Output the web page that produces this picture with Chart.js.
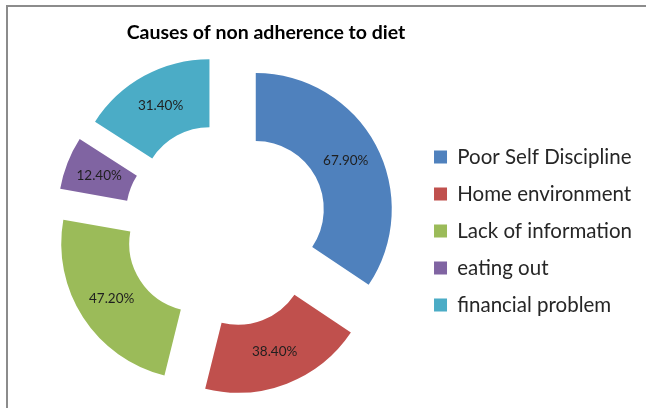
<!DOCTYPE html>
<html>
<head>
<meta charset="utf-8">
<script src="https://cdn.jsdelivr.net/npm/chart.js@4/dist/chart.umd.min.js"></script>
<style>
  html, body { margin: 0; padding: 0; background: #fff; overflow: hidden; }
  #wrap { position: relative; width: 646px; height: 408px; overflow: hidden; }
  #frame { position: absolute; left: 6px; top: 5px; width: 700px; height: 500px;
           border-top: 2px solid #8c8c8c; border-left: 2px solid #8c8c8c; }
  canvas { position: absolute; left: 0; top: 0; }
</style>
</head>
<body>
<div id="wrap">
  <div id="frame"></div>
  <canvas id="chart" width="646" height="408"></canvas>
</div>
<script>
'use strict';

const titleText = 'Causes of non adherence to diet';
const causes = ['Poor Self Discipline', 'Home environment', 'Lack of information', 'eating out', 'financial problem'];
const percents = [67.9, 38.4, 47.2, 12.4, 31.4];
const sliceColors = ['#4f81bd', '#c0504d', '#9bbb59', '#8064a2', '#4bacc6'];

// how far every slice is pulled away from the middle
const explodeBy = 34;

let canvasElem = document.getElementById('chart');

// draws each slice shifted out along its middle angle, then its value label
const explodedSlices = {
  id: 'explodedSlices',
  beforeDatasetDraw(chart, args) {
    const ctx = chart.ctx;
    args.meta.data.forEach((arc, i) => {
      const mid = (arc.startAngle + arc.endAngle) / 2;
      const dx = Math.cos(mid) * explodeBy;
      const dy = Math.sin(mid) * explodeBy;
      ctx.save();
      ctx.translate(dx, dy);
      arc.draw(ctx);
      ctx.restore();

      const c = arc.getCenterPoint();
      ctx.save();
      ctx.font = '13.5px Lato, "Liberation Sans", sans-serif';
      ctx.fillStyle = '#1f1f1f';
      ctx.textAlign = 'center';
      ctx.textBaseline = 'middle';
      ctx.fillText(percents[i].toFixed(2) + '%', c.x + dx, c.y + dy);
      ctx.restore();
    });
    return false;
  }
};

// chart heading, centred over the ring and legend block
const heading = {
  id: 'heading',
  afterDraw(chart) {
    const ctx = chart.ctx;
    ctx.save();
    ctx.font = 'bold 19.5px Lato, "Liberation Sans", sans-serif';
    ctx.fillStyle = '#000';
    ctx.textAlign = 'center';
    ctx.textBaseline = 'middle';
    ctx.fillText(titleText, 266, 33);
    ctx.restore();
  }
};

const data = {
  labels: causes,
  datasets: [{
    data: percents,
    backgroundColor: sliceColors,
    borderWidth: 0
  }]
};

const config = {
  type: 'doughnut',
  data: data,
  options: {
    responsive: false,
    animation: false,
    radius: 136,
    cutout: '50%',
    layout: {
      padding: { left: 34, top: 44, bottom: 2, right: 4 }
    },
    plugins: {
      title: { display: false },
      tooltip: { enabled: false },
      legend: {
        position: 'right',
        // empty heading only pushes the entries down a little
        title: { display: true, text: ' ', padding: 0, font: { size: 10 } },
        labels: {
          boxWidth: 13,
          boxHeight: 13,
          padding: 16.5,
          color: '#262626',
          font: { family: 'Lato, "Liberation Sans", sans-serif', size: 20.5 }
        }
      }
    }
  },
  plugins: [explodedSlices, heading]
};

function renderChart() {
  new Chart(canvasElem, config);
}

renderChart();
</script>
</body>
</html>
